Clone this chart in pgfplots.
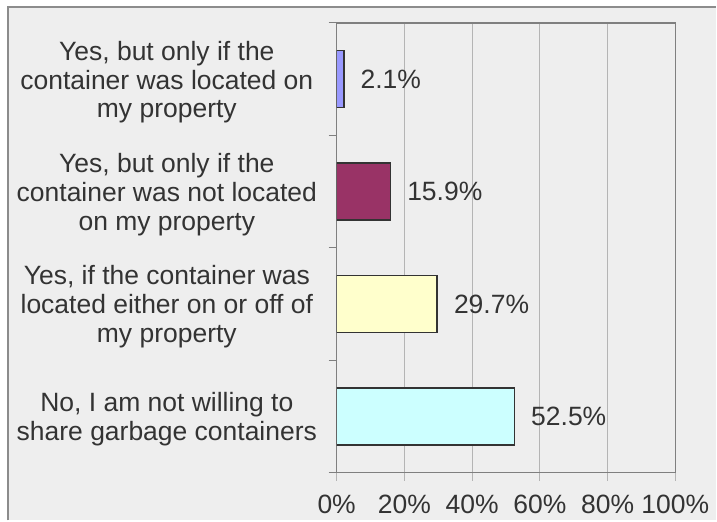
\documentclass[border=0pt]{standalone}
\usepackage{pgfplots}
\pgfplotsset{compat=1.18}
\usepackage{fontspec}
\setmainfont{Liberation Sans}
\definecolor{bgc}{HTML}{EEEEEE}
\definecolor{framec}{HTML}{8C8C8C}
\definecolor{axc}{HTML}{7F7F7F}
\definecolor{gridc}{HTML}{B4B4B4}
\definecolor{txt}{HTML}{333333}
\definecolor{c1}{HTML}{9999FF}
\definecolor{c2}{HTML}{993366}
\definecolor{c3}{HTML}{FFFFCC}
\definecolor{c4}{HTML}{CCFFFF}
\begin{document}
\begin{tikzpicture}
\fill[white] (0,0) rectangle (717pt,521pt);
\fill[bgc] (8pt,0) rectangle (717pt,514pt);
\draw[framec, line width=1.5pt] (8pt,0) -- (8pt,514pt) -- (717pt,514pt);
\useasboundingbox (0,0) rectangle (717pt,521pt);
\begin{axis}[
 at={(337pt,48pt)}, anchor=south west, scale only axis, width=339pt, height=450pt,
 xbar, bar width=57pt, bar shift=0pt,
 xmin=0, xmax=100, ymin=-0.5, ymax=3.5, y dir=reverse,
 xtick={0,20,40,60,80,100}, xticklabels={0\%,20\%,40\%,60\%,80\%,100\%},
 ytick={0,1,2,3},
 yticklabels={{Yes, but only if the\\container was located on\\my property},
  {Yes, but only if the\\container was not located\\on my property},
  {Yes, if the container was\\located either on or off of\\my property},
  {No, I am not willing to\\share garbage containers}},
 minor ytick={-0.5,0.5,1.5,2.5,3.5},
 xtick pos=bottom, ytick pos=left,
 tick align=outside, major tick length=8pt, minor tick length=8pt,
 major y tick style={draw=none}, minor y tick style={axc, line width=1pt},
 major x tick style={gridc, line width=1.2pt},
 xmajorgrids, grid style={gridc, line width=1.2pt},
 axis line style={axc, line width=1.2pt},
 tick label style={font=\fontsize{26.5}{29}\selectfont, text=txt},
 yticklabel style={align=center, anchor=center, xshift=-162pt, yshift=-3pt},
 xticklabel style={inner sep=0pt, yshift=-14pt},
 point meta=x,
 nodes near coords={\pgfmathprintnumber[fixed,fixed zerofill,precision=1,assume math mode=true]{\pgfplotspointmeta}\%},
 nodes near coords style={font=\fontsize{26.5}{29}\selectfont, text=txt, anchor=west, inner sep=0pt, xshift=16pt},
]
\addplot[fill=c1, draw=txt, line width=1.6pt] coordinates {(2.1,0)};
\addplot[fill=c2, draw=txt, line width=1.6pt] coordinates {(15.9,1)};
\addplot[fill=c3, draw=txt, line width=1.6pt] coordinates {(29.7,2)};
\addplot[fill=c4, draw=txt, line width=1.6pt] coordinates {(52.5,3)};
\end{axis}
\end{tikzpicture}
\end{document}
